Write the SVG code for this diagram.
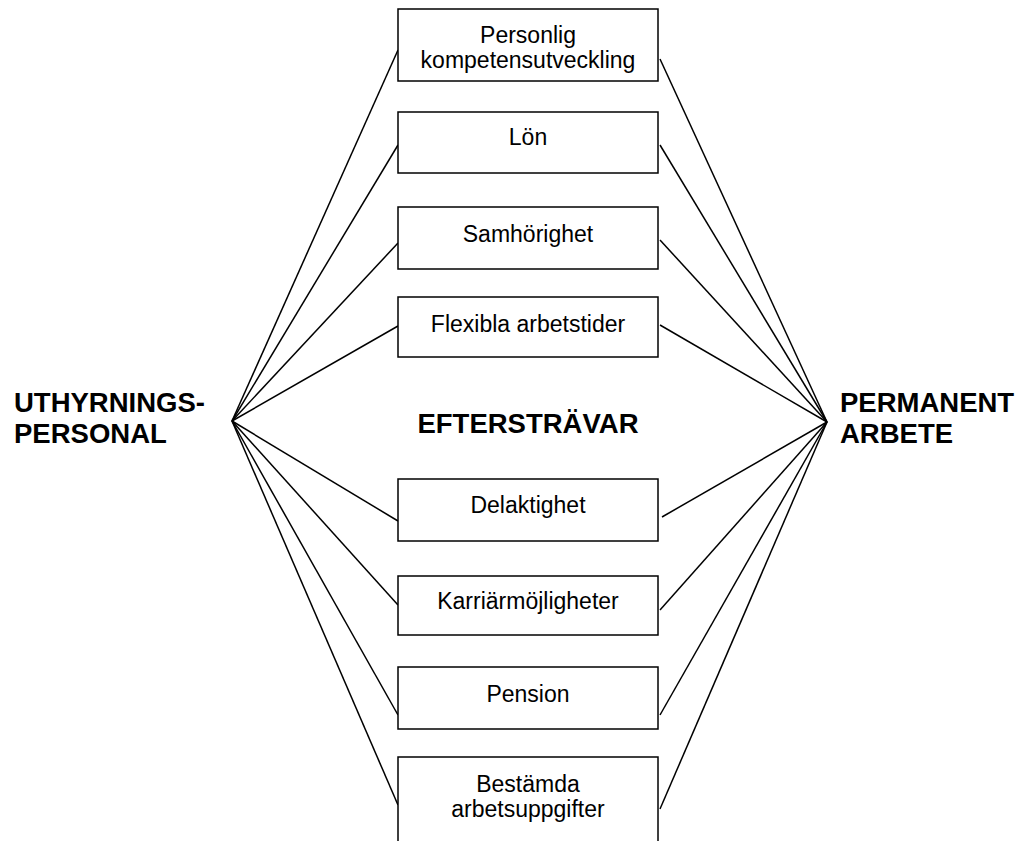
<svg xmlns="http://www.w3.org/2000/svg" width="1023" height="841" viewBox="0 0 1023 841">
<style>
.box{fill:#fff;stroke:#000;stroke-width:1.5}
.lbl{font-family:"Liberation Sans",Arial,sans-serif;font-size:23px;fill:#000;text-anchor:middle}
.big{font-family:"Liberation Sans",Arial,sans-serif;font-size:27.5px;font-weight:bold;fill:#000}
.con line{stroke:#000;stroke-width:1.5}
</style>
<rect width="1023" height="841" fill="#fff"/>
<g id="connectors" class="con">
<line x1="232" y1="421" x2="398" y2="50"/>
<line x1="232" y1="421" x2="398" y2="145"/>
<line x1="232" y1="421" x2="398" y2="243"/>
<line x1="232" y1="421" x2="398" y2="326"/>
<line x1="232" y1="421" x2="398" y2="521"/>
<line x1="232" y1="421" x2="398" y2="605"/>
<line x1="232" y1="421" x2="398" y2="715"/>
<line x1="232" y1="421" x2="398" y2="805"/>
<line x1="827" y1="422" x2="660" y2="59"/>
<line x1="827" y1="422" x2="660" y2="145"/>
<line x1="827" y1="422" x2="660" y2="240"/>
<line x1="827" y1="422" x2="660" y2="325"/>
<line x1="827" y1="422" x2="662" y2="517"/>
<line x1="827" y1="422" x2="660" y2="610"/>
<line x1="827" y1="422" x2="660" y2="715"/>
<line x1="827" y1="422" x2="660" y2="809"/>
</g>
<g id="n1"><rect class="box" x="398" y="9" width="260" height="72"/><text class="lbl" x="528" y="43">Personlig</text><text class="lbl" x="528" y="68">kompetensutveckling</text></g>
<g id="n2"><rect class="box" x="398" y="112" width="260" height="61"/><text class="lbl" x="528" y="145">Lön</text></g>
<g id="n3"><rect class="box" x="398" y="207" width="260" height="62"/><text class="lbl" x="528" y="242">Samhörighet</text></g>
<g id="n4"><rect class="box" x="398" y="297" width="260" height="60"/><text class="lbl" x="528" y="332">Flexibla arbetstider</text></g>
<g id="n5"><rect class="box" x="398" y="479" width="260" height="62"/><text class="lbl" x="528" y="513">Delaktighet</text></g>
<g id="n6"><rect class="box" x="398" y="576" width="260" height="59"/><text class="lbl" x="528" y="609">Karriärmöjligheter</text></g>
<g id="n7"><rect class="box" x="398" y="667" width="260" height="62"/><text class="lbl" x="528" y="702">Pension</text></g>
<g id="n8"><rect class="box" x="398" y="757" width="260" height="100"/><text class="lbl" x="528" y="792">Bestämda</text><text class="lbl" x="528" y="817">arbetsuppgifter</text></g>
<g id="left"><text class="big" x="14" y="412">UTHYRNINGS-</text><text class="big" x="14" y="443">PERSONAL</text></g>
<g id="center"><text class="big" x="528" y="433" text-anchor="middle">EFTERSTRÄVAR</text></g>
<g id="right"><text class="big" x="840" y="412">PERMANENT</text><text class="big" x="840" y="443">ARBETE</text></g>
</svg>
